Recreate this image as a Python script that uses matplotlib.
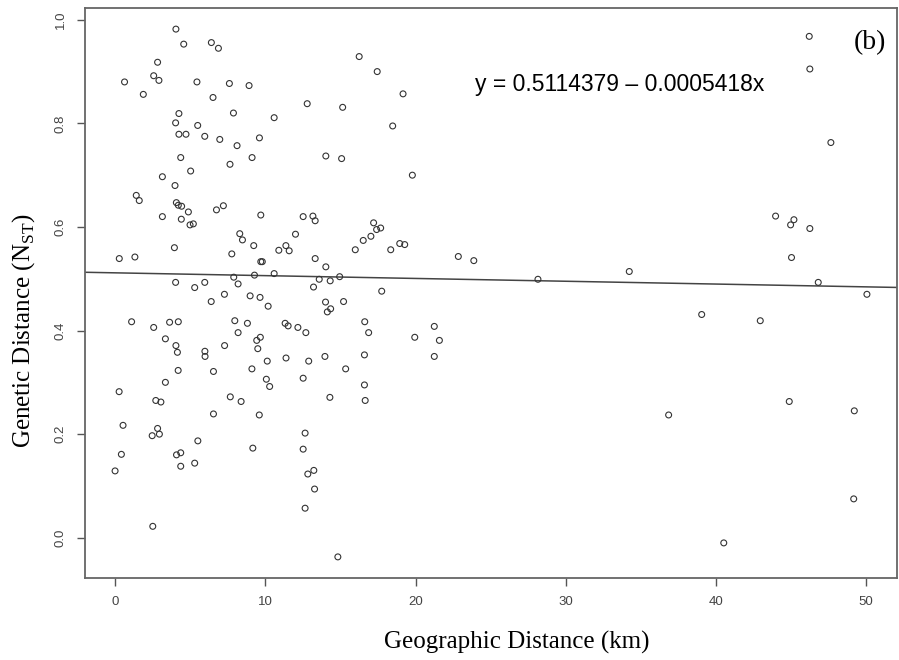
import matplotlib
matplotlib.use("Agg")
import matplotlib.pyplot as plt

# geographic distance (km) vs genetic distance (NST)
geo_km = [4.05, 4.57, 6.41, 6.88, 2.83, 2.57, 2.92, 0.63, 5.45, 7.61,
          8.92, 1.88, 6.52, 16.25, 17.45, 12.79, 15.15, 4.25, 7.88, 10.59,
          4.03, 5.50, 4.25, 4.72, 5.97, 6.97, 9.61, 8.12, 4.37, 9.12,
          14.03, 15.08, 7.65, 5.03, 3.15, 3.99, 1.41, 1.61, 4.08, 4.21,
          4.43, 4.88, 6.75, 7.21, 3.15, 4.41, 4.99, 5.21, 9.70, 12.52,
          13.17, 13.32, 17.21, 17.41, 17.68, 17.03, 16.52, 15.99, 8.30, 8.48,
          9.23, 12.01, 11.37, 11.59, 10.90, 3.95, 0.28, 1.32, 7.77, 9.70,
          9.80, 13.32, 14.03, 9.28, 10.59, 7.90, 8.19, 4.03, 5.30, 5.97,
          13.59, 14.32, 14.95, 13.21, 17.75, 7.28, 8.99, 9.65, 6.40, 10.19,
          14.01, 15.21, 14.13, 14.35, 1.10, 2.57, 3.63, 4.21, 7.97, 8.81,
          11.32, 11.52, 12.17, 16.62, 8.19, 12.70, 16.88, 3.35, 4.05, 4.15,
          7.29, 9.43, 9.67, 9.50, 5.98, 5.99, 10.13, 11.38, 12.89, 13.97,
          16.60, 4.20, 6.55, 9.11, 15.35, 12.52, 10.07, 10.29, 3.35, 16.60,
          0.27, 2.71, 3.05, 7.67, 8.39, 14.30, 16.65, 6.55, 9.60, 0.53,
          2.83, 2.47, 2.95, 12.65, 5.51, 0.42, 4.09, 4.37, 9.17, 12.52,
          4.37, 5.30, 0.00, 13.23, 12.83, 13.28, 12.65, 2.51, 14.83,
          19.17, 18.48, 19.79, 46.21, 46.25, 47.65, 18.35, 18.95, 19.28, 22.85,
          23.88, 28.15, 34.23, 43.97, 44.97, 45.19, 46.25, 45.03, 46.81, 50.05,
          21.25, 39.05, 42.95, 19.95, 21.59, 21.25, 36.85, 44.88, 49.21, 49.17,
          40.52]

nst = [0.982, 0.953, 0.956, 0.945, 0.918, 0.892, 0.883, 0.880, 0.880, 0.877,
       0.873, 0.856, 0.850, 0.929, 0.900, 0.838, 0.831, 0.819, 0.820, 0.811,
       0.801, 0.796, 0.779, 0.779, 0.775, 0.769, 0.772, 0.757, 0.734, 0.734,
       0.737, 0.732, 0.721, 0.708, 0.697, 0.680, 0.661, 0.651, 0.647, 0.642,
       0.640, 0.629, 0.633, 0.641, 0.620, 0.615, 0.604, 0.606, 0.623, 0.620,
       0.621, 0.612, 0.608, 0.595, 0.598, 0.582, 0.574, 0.556, 0.587, 0.575,
       0.564, 0.586, 0.564, 0.554, 0.555, 0.560, 0.539, 0.542, 0.548, 0.533,
       0.533, 0.539, 0.523, 0.507, 0.510, 0.503, 0.490, 0.493, 0.483, 0.493,
       0.499, 0.496, 0.504, 0.484, 0.476, 0.470, 0.467, 0.464, 0.456, 0.447,
       0.455, 0.456, 0.436, 0.442, 0.417, 0.406, 0.416, 0.417, 0.419, 0.414,
       0.414, 0.409, 0.406, 0.417, 0.396, 0.396, 0.396, 0.384, 0.371, 0.358,
       0.371, 0.381, 0.387, 0.365, 0.360, 0.350, 0.341, 0.347, 0.341, 0.350,
       0.353, 0.323, 0.321, 0.326, 0.326, 0.308, 0.306, 0.292, 0.300, 0.295,
       0.282, 0.265, 0.262, 0.272, 0.263, 0.271, 0.265, 0.239, 0.237, 0.217,
       0.211, 0.197, 0.200, 0.202, 0.187, 0.161, 0.160, 0.164, 0.173, 0.171,
       0.138, 0.144, 0.129, 0.130, 0.123, 0.094, 0.057, 0.022, -0.037,
       0.857, 0.795, 0.700, 0.968, 0.905, 0.763, 0.556, 0.568, 0.566, 0.543,
       0.535, 0.499, 0.514, 0.621, 0.604, 0.614, 0.597, 0.541, 0.493, 0.470,
       0.408, 0.431, 0.419, 0.387, 0.381, 0.350, 0.237, 0.263, 0.245, 0.075,
       -0.010]

intercept = 0.5114379
slope = -0.0005418

x_ticks = [0, 10, 20, 30, 40, 50]
y_ticks = [0.0, 0.2, 0.4, 0.6, 0.8, 1.0]

plt.rcParams['mathtext.fontset'] = 'custom'
plt.rcParams['mathtext.rm'] = 'Liberation Serif'

fig = plt.figure(figsize=(8.99, 6.6), dpi=100)
ax = fig.add_axes([85/899, 1-578/660, (897-85)/899, (578-8)/660])

ax.scatter(geo_km, nst, s=18, facecolors='none', edgecolors='#333333', linewidths=0.8, zorder=3)
ax.axline((0, intercept), slope=slope, color='#444444', lw=1.1, zorder=2)

ax.margins(x=0.04, y=0.04)
ax.set_xticks(x_ticks)
ax.set_yticks(y_ticks)
ax.set_yticklabels([f"{v:.1f}" for v in y_ticks], rotation=90, va='center')

for sp in ax.spines.values():
    sp.set_color('#666666')
    sp.set_linewidth(1.3)
ax.tick_params(length=6, width=1, color='#555555', labelcolor='#444444', labelsize=9.5, pad=7)
for lab in ax.get_xticklabels() + ax.get_yticklabels():
    lab.set_family('Liberation Sans')

ax.text(0.967, 0.939, "(b)", transform=ax.transAxes, fontsize=20, family='Liberation Serif', ha='center', va='center')
ax.text(0.659, 0.866, "y = 0.5114379 \u2013 0.0005418x", transform=ax.transAxes, fontsize=16.5,
        family='Liberation Sans', ha='center', va='center')

fig.text(517/899, 1-642/660, "Geographic Distance (km)", fontsize=18, family='Liberation Serif', ha='center', va='center')
fig.text(24/899, 1-331/660, r"Genetic Distance (N$_{\mathrm{ST}}$)", fontsize=18, family='Liberation Serif',
         rotation=90, ha='center', va='center')

fig.savefig("out.png", dpi=100)
